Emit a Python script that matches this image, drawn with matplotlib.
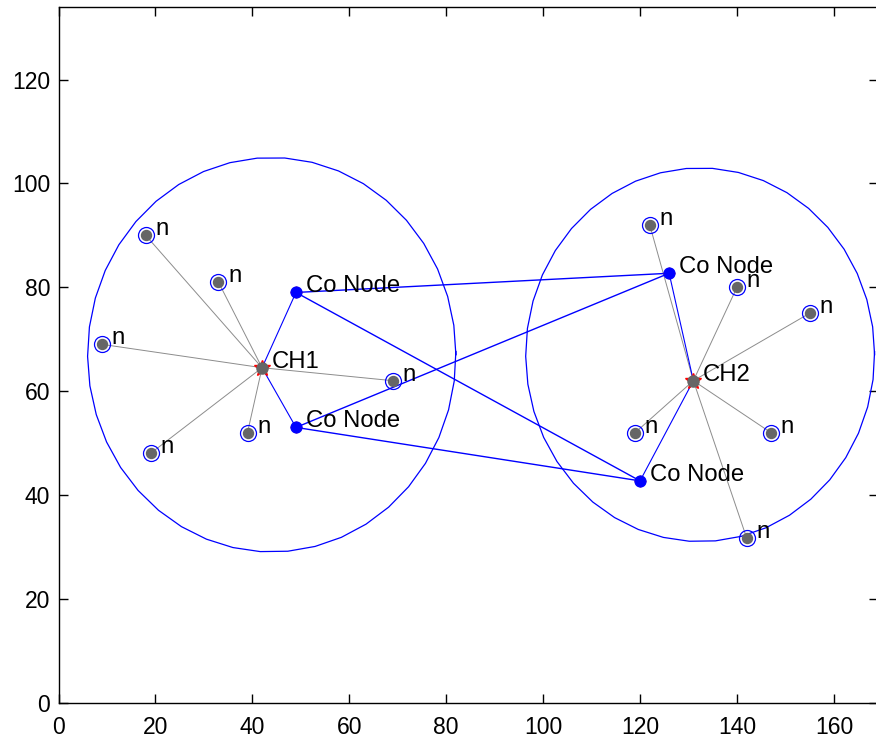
import numpy as np
import matplotlib
matplotlib.use("Agg")
import matplotlib.pyplot as plt

# cluster heads
ch_x = [42, 131]
ch_y = [64.5, 62]
ch_labels = ["CH1", "CH2"]

# co nodes (first two belong to CH1, last two to CH2)
co_x = [49, 49, 126, 120]
co_y = [79, 53, 82.7, 42.7]
co_owner = [0, 0, 1, 1]

# normal nodes and their cluster head
n_x = [18, 33, 9, 69, 39, 19, 122, 140, 155, 119, 147, 142]
n_y = [90, 81, 69, 62, 52, 48, 92, 80, 75, 52, 52, 31.7]
n_owner = [0, 0, 0, 0, 0, 0, 1, 1, 1, 1, 1, 1]

# links between co nodes of the two clusters
co_links = [(0, 2), (0, 3), (1, 2), (1, 3)]

# coverage circles
circ_x = [44, 132.4]
circ_y = [67, 67]
circ_r = [38, 36]

plt.rcParams['font.family'] = ['Liberation Sans', 'DejaVu Sans']

fig = plt.figure(figsize=(8.76, 7.42), dpi=100)
ax = fig.add_axes([58.5/876, (742-702.5)/742, (878-58.5)/876, (702.5-7)/742])

t = np.arange(0, 2*np.pi + 0.15, 0.15)
for cx, cy, r in zip(circ_x, circ_y, circ_r):
	ax.plot(cx + r*np.cos(t), cy + r*np.sin(t), color='#0000ff', lw=0.9)

for x, y, o in zip(n_x, n_y, n_owner):
	ax.plot([ch_x[o], x], [ch_y[o], y], color='#8c8c8c', lw=0.7)

for x, y, o in zip(co_x, co_y, co_owner):
	ax.plot([ch_x[o], x], [ch_y[o], y], color='#0000ff', lw=0.8)

for a, b in co_links:
	ax.plot([co_x[a], co_x[b]], [co_y[a], co_y[b]], color='#0000ff', lw=1.0)

# normal nodes
ax.plot(n_x, n_y, 'o', ms=11.5, mfc='none', mec='#0000ff', mew=0.9, ls='none')
ax.plot(n_x, n_y, 'o', ms=7.2, color='#666666', ls='none')
for x, y in zip(n_x, n_y):
	ax.text(x + 2, y, "n", fontsize=17.2, va='baseline')

# co nodes
ax.plot(co_x, co_y, '+', ms=8, color='red', mew=1.0, ls='none')
ax.plot(co_x, co_y, 'o', ms=7.8, color='#0000ff', ls='none')
for x, y in zip(co_x, co_y):
	ax.text(x + 2, y, "Co Node", fontsize=17.2, va='baseline')

# cluster heads
ax.plot(ch_x, ch_y, '*', ms=12, color='red', ls='none')
ax.plot(ch_x, ch_y, 'o', ms=8, color='#666666', ls='none')
for x, y, lab in zip(ch_x, ch_y, ch_labels):
	ax.text(x + 2, y, lab, fontsize=17.2, va='baseline')

ax.set_xlim(0, 169.1)
ax.set_ylim(0, 134)
ax.set_xticks(range(0, 161, 20))
ax.set_yticks(range(0, 121, 20))
ax.tick_params(direction='in', top=True, right=True, length=6.5, width=1.0,
	labelsize=16.5, colors='black')
ax.tick_params(axis='x', pad=10)
ax.tick_params(axis='y', pad=6)
for s in ax.spines.values():
	s.set_linewidth(1.0)

fig.savefig("out.png", dpi=100)
